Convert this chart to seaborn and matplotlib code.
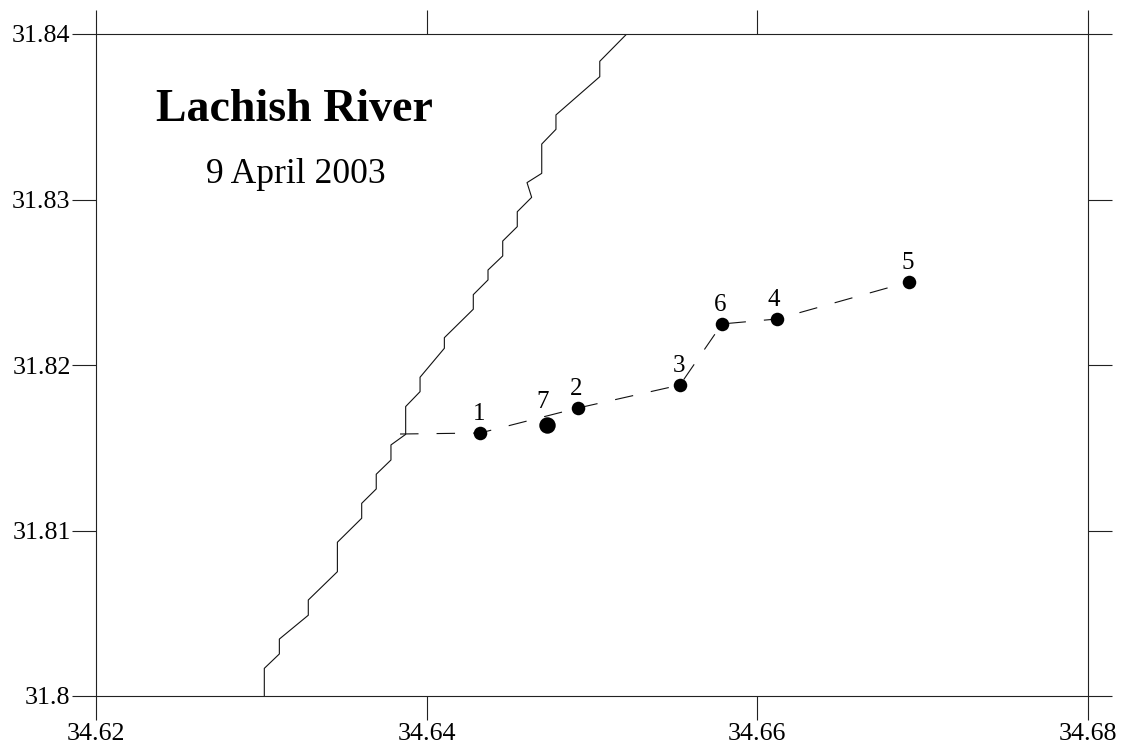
import matplotlib
matplotlib.use('Agg')
import matplotlib.pyplot as plt
import pandas as pd
import seaborn as sns

# river course
river_lon = [34.63018, 34.63018, 34.63109, 34.63109, 34.63284, 34.63284, 34.63460, 34.63460,
             34.63607, 34.63607, 34.63695, 34.63695, 34.63784, 34.63784, 34.63873, 34.63873,
             34.63960, 34.63960, 34.64107, 34.64107, 34.64282, 34.64282, 34.64371, 34.64371,
             34.64460, 34.64460, 34.64548, 34.64548, 34.64635, 34.64607, 34.64696, 34.64696,
             34.64782, 34.64782, 34.65047, 34.65047, 34.65210]
river_lat = [31.80000, 31.80167, 31.80254, 31.80344, 31.80488, 31.80580, 31.80751, 31.80929,
             31.81074, 31.81164, 31.81251, 31.81340, 31.81426, 31.81517, 31.81581, 31.81749,
             31.81839, 31.81926, 31.82101, 31.82165, 31.82337, 31.82425, 31.82514, 31.82574,
             31.82659, 31.82749, 31.82836, 31.82926, 31.83013, 31.83102, 31.83158, 31.83335,
             31.83424, 31.83511, 31.83742, 31.83835, 31.84000]

# transect, starts at the river mouth (station 7 sits just off it)
track_lon = [34.63839, 34.64323, 34.64915, 34.65532, 34.65786, 34.66119, 34.66917]
track_lat = [31.81583, 31.81589, 31.81740, 31.81879, 31.82248, 31.82278, 31.82502]

# stations
station_names = ['1', '7', '2', '3', '6', '4', '5']
station_lon = [34.64323, 34.64728, 34.64915, 34.65532, 34.65786, 34.66119, 34.66917]
station_lat = [31.81589, 31.81637, 31.81740, 31.81879, 31.82248, 31.82278, 31.82502]

x_ticks = [34.62, 34.64, 34.66, 34.68]
x_labels = ['34.62', '34.64', '34.66', '34.68']
y_ticks = [31.80, 31.81, 31.82, 31.83, 31.84]
y_labels = ['31.8', '31.81', '31.82', '31.83', '31.84']

sns.set_style('white')
plt.rcParams['font.family'] = ['Liberation Serif', 'DejaVu Serif']
plt.rcParams['lines.scale_dashes'] = False

river = pd.DataFrame({'lon': river_lon, 'lat': river_lat})
track = pd.DataFrame({'lon': track_lon, 'lat': track_lat})
stations = pd.DataFrame({'name': station_names, 'lon': station_lon, 'lat': station_lat})

fig = plt.figure(figsize=(11.21, 7.44), dpi=100)
ax = fig.add_axes([96 / 1121, 1 - 696 / 744, (1088 - 96) / 1121, (696 - 34) / 744])

sns.lineplot(data=river, x='lon', y='lat', sort=False, estimator=None, color='#111111',
             linewidth=0.8, ax=ax)
sns.lineplot(data=track, x='lon', y='lat', sort=False, estimator=None, color='#111111',
             linewidth=0.8, ax=ax, linestyle=(0, (13.3, 13)))

# station 7 has the bigger dot
others = stations[stations['name'] != '7']
sns.scatterplot(data=others, x='lon', y='lat', color='black', s=95, linewidth=0, ax=ax, zorder=3)
sns.scatterplot(data=stations[stations['name'] == '7'], x='lon', y='lat', color='black', s=140,
                linewidth=0, ax=ax, zorder=3)

# label offsets in points
offsets = {'1': (-1, 9.4), '7': (-3, 12.5), '2': (-1, 9.4), '3': (-1, 9.6), '6': (-1, 9.4), '4': (-2, 9.4), '5': (-1, 9.4)}
for _, row in stations.iterrows():
    ax.annotate(row['name'], (row['lon'], row['lat']), xytext=offsets[row['name']],
                textcoords='offset points', ha='center', va='baseline', fontsize=18, color='black')

ax.text(34.63198, 31.83474, 'Lachish River', fontsize=33, fontweight='bold', ha='center', va='baseline', color='black')
ax.text(34.6321, 31.8310, '9 April 2003', fontsize=25.6, ha='center', va='baseline', color='black')

ax.set_xlim(34.62, 34.68)
ax.set_ylim(31.80, 31.84)
ax.set_xticks(x_ticks)
ax.set_xticklabels(x_labels)
ax.set_yticks(y_ticks)
ax.set_yticklabels(y_labels)
ax.set_xlabel('')
ax.set_ylabel('')
ax.tick_params(direction='out', length=17.3, width=0.8, color='#222222', labelsize=18.7, pad=1,
               top=True, right=True, bottom=True, left=True, labelcolor='black')
ax.tick_params(axis='x', pad=2)
for s in ax.spines.values():
    s.set_linewidth(0.8)
    s.set_color('#222222')
    s.set_visible(True)

fig.savefig('out.png', dpi=100)
